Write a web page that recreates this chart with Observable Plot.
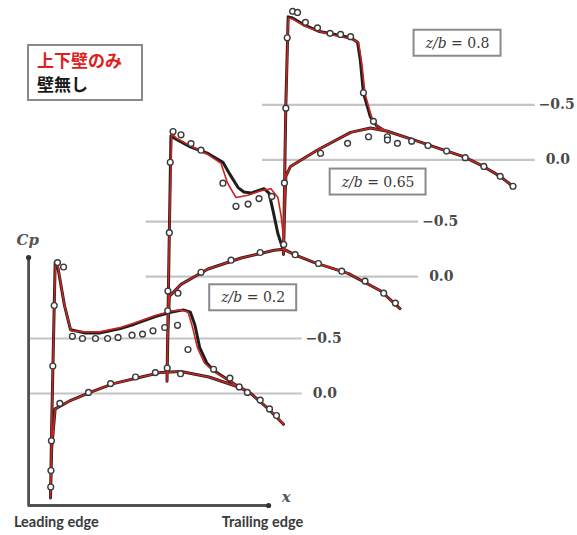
<!DOCTYPE html>
<html><head><meta charset="utf-8">
<script src="https://cdn.jsdelivr.net/npm/d3@7"></script>
<script src="https://cdn.jsdelivr.net/npm/@observablehq/plot@0.6"></script>
<style>
body{margin:0;background:#fff;}
#wrap{position:relative;width:577px;height:535px;}
#legend{position:absolute;left:27px;top:44px;width:116px;height:57px;border:2px solid #8a8a8a;background:#fff;
 font-family:"Noto Sans CJK JP",sans-serif;font-weight:700;font-size:17px;line-height:24px;padding:2px 0 0 8px;box-sizing:border-box;}
#legend .r{color:#e0201c;} #legend .k{color:#1a1a1a;}
</style></head><body>
<div id="wrap"><div id="legend"><div class="r">上下壁のみ</div><div class="k">壁無し</div></div></div>
<script>
// ---- spanwise stations ----
const stations = ["0.2", "0.65", "0.8"];
const legendLabels = ["上下壁のみ", "壁無し"];
const refLevels = [0, -0.5];
const refLabels = ["0.0", "−0.5"];

// ---- z/b = 0.2 : [x/c, Cp] ----
const noWallUpper1 = [[0,0.95],[0.005,0.3],[0.012,-0.4],[0.02,-1.19],[0.032,-1.14],[0.06,-0.8],[0.086,-0.58],[0.15,-0.55],[0.21,-0.55],[0.30,-0.59],[0.36,-0.63],[0.45,-0.7],[0.52,-0.74],[0.57,-0.76],[0.60,-0.74],[0.62,-0.62],[0.64,-0.42],[0.67,-0.28],[0.70,-0.21],[0.75,-0.14],[0.815,-0.05],[0.86,0.0],[0.93,0.13],[1.0,0.28]];
const wallUpper1   = [[0,0.95],[0.005,0.3],[0.012,-0.4],[0.021,-1.19],[0.033,-1.14],[0.06,-0.8],[0.088,-0.57],[0.15,-0.56],[0.21,-0.56],[0.30,-0.6],[0.36,-0.64],[0.45,-0.71],[0.52,-0.75],[0.56,-0.76],[0.59,-0.74],[0.61,-0.6],[0.63,-0.42],[0.66,-0.28],[0.70,-0.2],[0.75,-0.14],[0.815,-0.05],[0.86,0.0],[0.93,0.13],[1.0,0.27]];
const lower1       = [[0,0.95],[0.005,0.5],[0.02,0.14],[0.08,0.07],[0.17,-0.01],[0.27,-0.09],[0.39,-0.15],[0.47,-0.19],[0.56,-0.2],[0.68,-0.15],[0.75,-0.1],[0.82,-0.05],[0.86,0.0],[0.93,0.13],[1.0,0.28]];
const exp1 = [[0.016,-0.8],[0.01,-0.25],[0.004,0.43],[0.002,0.7],[0.001,0.85],[0.03,-1.19],[0.056,-1.15],[0.094,-0.52],[0.137,-0.5],[0.193,-0.5],[0.245,-0.5],[0.29,-0.51],[0.35,-0.53],[0.395,-0.54],[0.44,-0.57],[0.49,-0.6],[0.545,-0.62],[0.59,-0.4],[0.70,-0.22],[0.77,-0.14],[0.81,-0.06],[0.845,-0.01],[0.9,0.06],[0.94,0.14],[0.97,0.2],[0.04,0.09],[0.163,-0.01],[0.258,-0.09],[0.365,-0.15],[0.45,-0.19],[0.558,-0.18]];

// ---- z/b = 0.65 ----
const noWallUpper2 = [[0,0.95],[0.004,0.4],[0.01,-0.4],[0.017,-1.28],[0.039,-1.25],[0.1,-1.18],[0.176,-1.12],[0.24,-1.04],[0.27,-0.93],[0.305,-0.81],[0.33,-0.77],[0.36,-0.76],[0.416,-0.8],[0.438,-0.76],[0.455,-0.6],[0.476,-0.39],[0.498,-0.25],[0.56,-0.19],[0.63,-0.13],[0.777,-0.03],[0.918,0.13],[1.0,0.29]];
const wallUpper2   = [[0,0.95],[0.004,0.4],[0.01,-0.4],[0.02,-1.3],[0.04,-1.26],[0.1,-1.19],[0.176,-1.11],[0.232,-1.03],[0.26,-0.85],[0.296,-0.72],[0.348,-0.74],[0.40,-0.78],[0.446,-0.8],[0.476,-0.72],[0.49,-0.55],[0.498,-0.39],[0.506,-0.24],[0.56,-0.19],[0.63,-0.13],[0.777,-0.03],[0.918,0.13],[1.0,0.29]];
const lower2       = [[0,0.95],[0.004,0.5],[0.01,0.18],[0.06,0.07],[0.176,-0.07],[0.318,-0.17],[0.46,-0.24],[0.5,-0.25],[0.56,-0.19],[0.63,-0.13],[0.777,-0.03],[0.918,0.13],[1.0,0.29]];
const exp2 = [[0.014,-1.04],[0.01,-0.4],[0.004,0.13],[0.003,0.31],[0.001,0.83],[0.026,-1.32],[0.06,-1.29],[0.103,-1.21],[0.146,-1.15],[0.24,-0.85],[0.296,-0.64],[0.348,-0.66],[0.395,-0.71],[0.45,-0.73],[0.55,-0.2],[0.65,-0.12],[0.75,-0.05],[0.85,0.04],[0.93,0.15],[0.98,0.24],[0.047,0.15],[0.146,-0.04],[0.275,-0.15],[0.4,-0.22]];

// ---- z/b = 0.8 ----
const noWallUpper3 = [[0,0.86],[0.004,0.3],[0.01,-0.5],[0.02,-1.3],[0.039,-1.29],[0.086,-1.23],[0.15,-1.17],[0.22,-1.14],[0.288,-1.11],[0.318,-1.07],[0.33,-0.9],[0.343,-0.61],[0.373,-0.39],[0.40,-0.31],[0.43,-0.27],[0.446,-0.26],[0.575,-0.17],[0.644,-0.12],[0.773,-0.03],[0.858,0.06],[0.93,0.15],[0.99,0.25]];
const wallUpper3   = [[0,0.86],[0.004,0.3],[0.01,-0.5],[0.021,-1.29],[0.04,-1.28],[0.086,-1.22],[0.15,-1.17],[0.22,-1.13],[0.288,-1.1],[0.322,-1.07],[0.336,-0.88],[0.35,-0.6],[0.378,-0.39],[0.405,-0.3],[0.435,-0.27],[0.446,-0.26],[0.575,-0.17],[0.644,-0.12],[0.773,-0.03],[0.858,0.06],[0.93,0.15],[0.99,0.25]];
const lower3       = [[0,0.86],[0.004,0.5],[0.01,0.15],[0.03,0.06],[0.146,-0.09],[0.288,-0.25],[0.373,-0.29],[0.446,-0.26],[0.575,-0.17],[0.644,-0.12],[0.773,-0.03],[0.858,0.06],[0.93,0.15],[0.99,0.25]];
const exp3 = [[0.016,-1.11],[0.01,-0.47],[0.004,0.21],[0.001,0.77],[0.039,-1.35],[0.06,-1.34],[0.094,-1.25],[0.146,-1.2],[0.2,-1.15],[0.245,-1.14],[0.288,-1.12],[0.343,-0.61],[0.386,-0.35],[0.446,-0.21],[0.489,-0.15],[0.55,-0.17],[0.62,-0.13],[0.7,-0.08],[0.78,-0.02],[0.86,0.06],[0.93,0.15],[0.985,0.24],[0.159,-0.06],[0.275,-0.15],[0.365,-0.21],[0.446,-0.18]];

// ---- label positions (x/c, Cp in each panel's frame) ----
const stationLabelX  = [0.87, 0.906, 0.747];
const stationLabelCp = [-0.87, -0.86, -1.06];

// ---- layout: panel stacking offset ----
const shiftX = 0.5, shiftCp = -1.062;
const refX1 = -0.09, refX2 = 1.08;
const axisX = -0.094, axisTop = -1.236, axisBottom = 1.018, axisRight = 0.936;

const noWallUpper = [noWallUpper1, noWallUpper2, noWallUpper3];
const wallUpper = [wallUpper1, wallUpper2, wallUpper3];
const lowers = [lower1, lower2, lower3];
const exps = [exp1, exp2, exp3];

const place = (pts, k, series) => pts.map(([x, cp]) => ({X: x + k * shiftX, Y: cp + k * shiftCp, series}));
const airfoil = (up, lo, k, s) => place([...up].reverse().concat(lo.slice(1)), k, s + k);

const blackLines = [], redLines = [], expPts = [], refs = [], refTexts = [], stationTexts = [];
stations.forEach((s, k) => {
  blackLines.push(...airfoil(noWallUpper[k], lowers[k], k, "nowall"));
  redLines.push(...airfoil(wallUpper[k], lowers[k], k, "wall"));
  expPts.push(...place(exps[k], k, "exp"));
  refLevels.forEach((lv, i) => {
    refs.push({Y: lv + k * shiftCp, X1: refX1 + k * shiftX, X2: refX2 + k * shiftX});
    refTexts.push({Y: lv + k * shiftCp, X: (i === 0 ? 1.125 : 1.095) + k * shiftX, t: refLabels[i]});
  });
  stationTexts.push({X: stationLabelX[k] + k * shiftX, Y: stationLabelCp[k] + k * shiftCp, t: "z/b = " + s});
});

const axisPath = [{X: axisX, Y: axisTop}, {X: axisX, Y: axisBottom}, {X: axisRight, Y: axisBottom}];

const chart = Plot.plot({
  width: 577, height: 535,
  marginTop: 0, marginRight: 0, marginBottom: 0, marginLeft: 0,
  x: {domain: [-50 / 233, 527 / 233], axis: null},
  y: {domain: [142 / 110, -393 / 110], axis: null},
  marks: [
    Plot.ruleY(refs, {y: "Y", x1: "X1", x2: "X2", stroke: "#c4c4c4", strokeWidth: 2.2}),
    Plot.text(refTexts, {x: "X", y: "Y", text: "t", textAnchor: "start", fontSize: 14, fontFamily: "DejaVu Serif", fill: "#4a4a4a", fontWeight: "bold"}),
    Plot.line(axisPath, {x: "X", y: "Y", stroke: "#505050", strokeWidth: 2.8}),
    Plot.dot([axisPath[0], axisPath[2]], {x: "X", y: "Y", r: 2.6, fill: "#333"}),
    Plot.text([{X: -0.098, Y: -1.39}], {x: "X", y: "Y", text: () => "Cp", fontSize: 15, fontStyle: "italic", fontWeight: "bold", fontFamily: "DejaVu Serif", fill: "#555"}),
    Plot.text([{X: 1.012, Y: 0.94}], {x: "X", y: "Y", text: () => "x", fontSize: 15, fontStyle: "italic", fontWeight: "bold", fontFamily: "DejaVu Serif", fill: "#555"}),
    Plot.text([{X: 0.025, Y: 1.17, t: "Leading edge"}, {X: 0.91, Y: 1.17, t: "Trailing edge"}], {x: "X", y: "Y", text: "t", fontSize: 14.5, fontWeight: "bold", fontFamily: "Lato", fill: "#3a3a3a"}),
    Plot.line(blackLines, {x: "X", y: "Y", z: "series", stroke: "#1e1e1e", strokeWidth: 3, strokeLinejoin: "round"}),
    Plot.line(redLines, {x: "X", y: "Y", z: "series", stroke: "#c8261f", strokeWidth: 1.6, strokeLinejoin: "round"}),
    Plot.dot(expPts, {x: "X", y: "Y", r: 2.9, stroke: "#3a3a3a", strokeWidth: 1.4, fill: "white"}),
    Plot.text(stationTexts, {x: "X", y: "Y", text: "t", fontSize: 14, fontFamily: "DejaVu Serif", fill: "#3a3a3a"})
  ]
});

document.getElementById("wrap").prepend(chart);

// italic "z/b" and frame boxes around station labels
chart.querySelectorAll("text").forEach(t => {
  const s = t.textContent;
  if (!s.startsWith("z/b")) return;
  const rest = s.slice(3);
  t.textContent = "";
  const ns = "http://www.w3.org/2000/svg";
  const a = document.createElementNS(ns, "tspan"); a.setAttribute("font-style", "italic"); a.textContent = "z/b";
  const b = document.createElementNS(ns, "tspan"); b.textContent = rest;
  t.appendChild(a); t.appendChild(b);
  const bb = t.getBBox();
  const r = document.createElementNS(ns, "rect");
  r.setAttribute("x", bb.x - 11); r.setAttribute("y", bb.y - 5);
  r.setAttribute("width", bb.width + 22); r.setAttribute("height", bb.height + 10);
  r.setAttribute("fill", "white"); r.setAttribute("stroke", "#8a8a8a"); r.setAttribute("stroke-width", 2);
  const ctm = t.getAttribute("transform");
  if (ctm) r.setAttribute("transform", ctm);
  t.parentNode.insertBefore(r, t);
});
</script>
</body></html>
